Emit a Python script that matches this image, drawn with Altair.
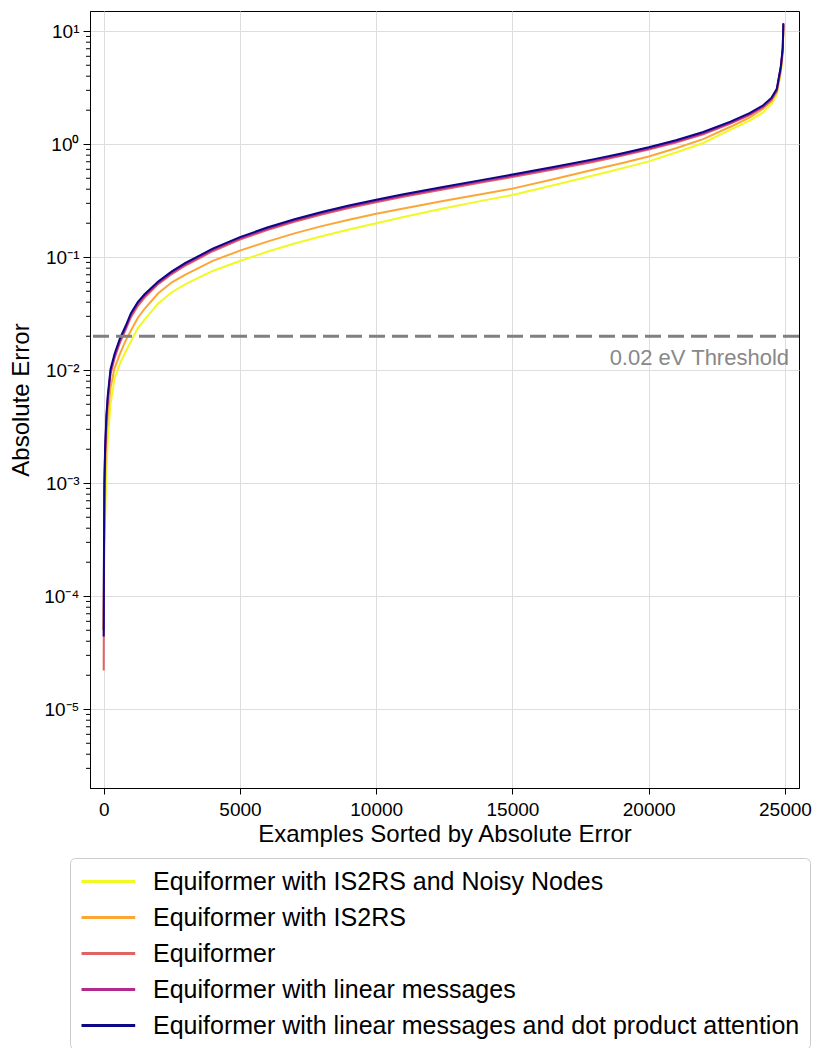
import altair as alt
import pandas as pd

# ---- data ----
SERIES = [
    "Equiformer with IS2RS and Noisy Nodes",
    "Equiformer with IS2RS",
    "Equiformer",
    "Equiformer with linear messages",
    "Equiformer with linear messages and dot product attention",
]
COLORS = ["#f0f921", "#fca636", "#e16462", "#b12a90", "#0d0887"]

X = [0, 10, 25, 50, 100, 150, 250, 400, 600, 800, 1000, 1250, 1500, 2000, 2500,
     3000, 4000, 5000, 6000, 7000, 8000, 9000, 10000, 11000, 12500, 14000, 15000,
     16500, 18000, 19000, 20000, 21000, 22000, 23000, 23700, 24200, 24500, 24700,
     24850, 24920, 24942]

YELLOW = [5e-5, 1.2e-4, 3.0e-4, 4.5e-4, 1.3e-3, 2.4e-3, 5.0e-3, 8.5e-3, 0.0115, 0.0145,
          0.018, 0.0235, 0.028, 0.039, 0.049, 0.0579, 0.0756, 0.0927, 0.1118, 0.1322,
          0.1532, 0.1761, 0.2001, 0.2272, 0.2714, 0.3201, 0.355, 0.433, 0.531, 0.609,
          0.705, 0.846, 1.026, 1.347, 1.62, 1.914, 2.26, 2.75, 4.3, 6.2, 10.5]
ORANGE = [5e-5, 1.5e-4, 5.5e-4, 1.1e-3, 2.5e-3, 4.0e-3, 7.0e-3, 0.0105, 0.0140, 0.0182,
          0.0225, 0.029, 0.035, 0.048, 0.060, 0.0703, 0.0928, 0.1145, 0.1374, 0.1626,
          0.1884, 0.2148, 0.2421, 0.2705, 0.3155, 0.3665, 0.4046, 0.49, 0.598, 0.679,
          0.78, 0.921, 1.109, 1.427, 1.724, 2.058, 2.40, 2.87, 4.5, 6.6, 11.0]
PINK = [2.2e-5, 2.0e-4, 8.0e-4, 1.7e-3, 3.6e-3, 5.4e-3, 9.2e-3, 0.0128, 0.0176, 0.0226,
        0.0295, 0.037, 0.0440, 0.0578, 0.071, 0.0845, 0.113, 0.143, 0.174, 0.206,
        0.2386, 0.272, 0.3067, 0.3426, 0.3997, 0.4643, 0.5125, 0.597, 0.701, 0.789,
        0.897, 1.035, 1.226, 1.52, 1.81, 2.13, 2.47, 2.97, 4.7, 6.9, 11.4]
PURPLE = [5e-5, 2.3e-4, 9.0e-4, 1.85e-3, 3.8e-3, 5.7e-3, 9.7e-3, 0.0134, 0.0184, 0.0236,
          0.031, 0.0388, 0.0457, 0.0593, 0.073, 0.0868, 0.116, 0.147, 0.1786, 0.2114,
          0.2449, 0.2792, 0.3147, 0.3516, 0.4102, 0.4765, 0.526, 0.612, 0.72, 0.807,
          0.9165, 1.057, 1.25, 1.545, 1.837, 2.158, 2.506, 3.01, 4.8, 7.0, 11.6]
NAVY = [4.4e-5, 2.6e-4, 1.0e-3, 2.0e-3, 4.0e-3, 6.0e-3, 0.0102, 0.0140, 0.0192, 0.0245,
        0.032, 0.040, 0.047, 0.061, 0.075, 0.089, 0.119, 0.1507, 0.1832, 0.2168,
        0.2512, 0.2864, 0.3228, 0.3606, 0.4207, 0.4887, 0.5395, 0.628, 0.738, 0.828,
        0.94, 1.084, 1.282, 1.585, 1.884, 2.213, 2.57, 3.09, 4.9, 7.2, 11.8]

X_TICKS = [0, 5000, 10000, 15000, 20000, 25000]
Y_TICKS = [1e-5, 1e-4, 1e-3, 1e-2, 1e-1, 1, 10]
Y_MINOR = [k * 10.0 ** e for e in range(-6, 2) for k in range(2, 10)
           if 2.01e-6 <= k * 10.0 ** e <= 15.1]

THRESHOLD = [0.02]
THRESH_LABEL = ["0.02 eV Threshold"]
THRESH_LABEL_X = [25150]
THRESH_LABEL_Y = [0.0128]

FONT = "Liberation Sans"

rows = []
for name, vals in zip(SERIES, [YELLOW, ORANGE, PINK, PURPLE, NAVY]):
    for x, v in zip(X, vals):
        rows.append({"series": name, "idx": x, "err": v})
df = pd.DataFrame(rows)

xscale = alt.Scale(domain=[-503, 25516], nice=False, zero=False)
yscale = alt.Scale(type="log", domain=[2.01e-6, 15.1], nice=False)

label_expr = ("datum.value > 5 ? '10¹' : datum.value > 0.5 ? '10⁰' : "
              "datum.value > 0.05 ? '10⁻¹' : datum.value > 0.005 ? '10⁻²' : "
              "datum.value > 0.0005 ? '10⁻³' : datum.value > 0.00005 ? '10⁻⁴' : '10⁻⁵'")

xaxis = alt.Axis(values=X_TICKS, title="Examples Sorted by Absolute Error",
                 format="d", grid=True, tickSize=6, labelPadding=6, titlePadding=3)
yaxis = alt.Axis(values=Y_TICKS, title="Absolute Error", labelExpr=label_expr,
                 grid=True, tickSize=7, labelPadding=4, titlePadding=10)

lines = alt.Chart(df).mark_line(strokeWidth=2, clip=True).encode(
    x=alt.X("idx:Q", scale=xscale, axis=xaxis),
    y=alt.Y("err:Q", scale=yscale, axis=yaxis),
    color=alt.Color("series:N", scale=alt.Scale(domain=SERIES, range=COLORS),
                    legend=alt.Legend(title=None, orient="none", legendX=-20, legendY=847,
                                      direction="vertical", labelFontSize=25,
                                      labelFont=FONT, labelColor="black", labelLimit=0,
                                      symbolType="M-1,0H3.475", symbolSize=576,
                                      symbolStrokeWidth=3, labelOffset=46, rowPadding=9,
                                      padding=10, strokeColor="#cccccc", fillColor="white",
                                      cornerRadius=5)),
)

minor = alt.Chart(pd.DataFrame({"v": Y_MINOR})).mark_rule(
    color="black", strokeWidth=1, clip=False).encode(
    y=alt.Y("v:Q", scale=yscale, axis=yaxis),
    x=alt.value(-4), x2=alt.value(0),
)

thr = alt.Chart(pd.DataFrame({"t": THRESHOLD})).mark_rule(
    color="#808080", strokeWidth=3, strokeDash=[16, 7]).encode(
    y=alt.Y("t:Q", scale=yscale, axis=yaxis),
)

thr_text = alt.Chart(pd.DataFrame({"tx": THRESH_LABEL_X, "ty": THRESH_LABEL_Y,
                                   "label": THRESH_LABEL})).mark_text(
    align="right", baseline="middle", fontSize=22, font=FONT, color="#888888").encode(
    x=alt.X("tx:Q", scale=xscale, axis=xaxis),
    y=alt.Y("ty:Q", scale=yscale, axis=yaxis),
    text="label:N",
)

chart = alt.layer(lines, minor, thr, thr_text).properties(
    width=709, height=777,
    autosize=alt.AutoSizeParams(type="none"),
    padding={"left": 82, "top": 3, "right": 20, "bottom": 260},
).configure_view(stroke="black", strokeWidth=1).configure_axis(
    labelFont=FONT, titleFont=FONT, labelFontSize=19, titleFontSize=24,
    titleFontWeight="normal", labelColor="black", titleColor="black",
    domainColor="black", tickColor="black", gridColor="#dddddd", gridWidth=1,
)

chart.save("out.html", embed_options={"renderer": "svg", "actions": False})
